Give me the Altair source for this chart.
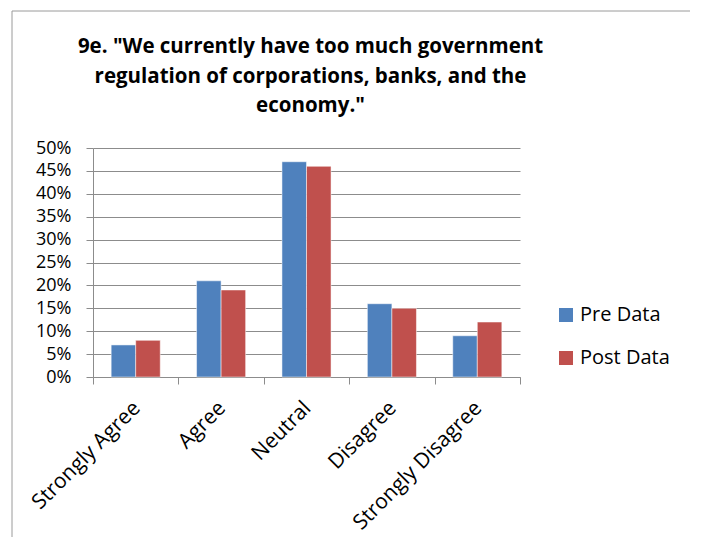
import altair as alt
import pandas as pd

categories = ["Strongly Agree", "Agree", "Neutral", "Disagree", "Strongly Disagree"]
pre_data = [0.07, 0.21, 0.47, 0.16, 0.09]
post_data = [0.08, 0.19, 0.46, 0.15, 0.12]
series = ["Pre Data", "Post Data"]
colors = ["#4F81BD", "#C0504D"]
y_ticks = [0, 0.05, 0.10, 0.15, 0.20, 0.25, 0.30, 0.35, 0.40, 0.45, 0.50]
title_lines = [
    '9e. "We currently have too much government',
    'regulation of corporations, banks, and the',
    'economy."',
]

rows = []
for c, a, b in zip(categories, pre_data, post_data):
    rows.append({"category": c, "series": series[0], "value": a})
    rows.append({"category": c, "series": series[1], "value": b})
df = pd.DataFrame(rows)

FONT = "Open Sans"
GRID = "#8c8c8c"

frame = alt.Chart(alt.Data(values=[{}])).mark_rect(
    fill=None, stroke="#9a9a9a", strokeWidth=1
).encode(
    x=alt.value(-81), x2=alt.value(601), y=alt.value(-137), y2=alt.value(440)
)

bars = alt.Chart(df).mark_bar(stroke="white", strokeWidth=0.5).encode(
    x=alt.X(
        "category:N",
        sort=categories,
        scale=alt.Scale(paddingInner=0, paddingOuter=0),
        axis=alt.Axis(
            title=None,
            labelAngle=-45,
            tickBand="extent",
            tickSize=7,
            tickColor=GRID,
            domainColor=GRID,
            labelFont=FONT,
            labelFontSize=21,
            labelColor="black",
            labelPadding=13,
            labelOffset=-7,
            grid=False,
        ),
    ),
    xOffset=alt.XOffset(
        "series:N", sort=series, scale=alt.Scale(paddingInner=0, paddingOuter=0.74)
    ),
    y=alt.Y(
        "value:Q",
        scale=alt.Scale(domain=[0, 0.5], nice=False),
        axis=alt.Axis(
            title=None,
            values=y_ticks,
            format=".0%",
            tickSize=7,
            tickColor=GRID,
            domainColor=GRID,
            gridColor=GRID,
            labelFont=FONT,
            labelFontSize=18,
            labelColor="black",
            labelPadding=15,
        ),
    ),
    color=alt.Color(
        "series:N",
        sort=series,
        scale=alt.Scale(domain=series, range=colors),
        legend=alt.Legend(
            title=None,
            orient="none",
            legendX=463,
            legendY=157,
            symbolType="square",
            symbolSize=196,
            symbolStrokeWidth=0,
            labelFont=FONT,
            labelFontSize=20,
            labelColor="black",
            labelOffset=4,
            rowPadding=23,
        ),
    ),
)

chart = alt.layer(frame, bars).properties(
    width=427,
    height=229,
    autosize="none",
    padding={"left": 85, "top": 140, "right": 170, "bottom": 160},
    title=alt.TitleParams(
        text=title_lines,
        font=FONT,
        fontSize=20.5,
        fontWeight="bold",
        color="black",
        anchor="middle",
        frame="group",
        lineHeight=29.5,
        offset=-106,
        dx=4,
    ),
).configure_view(stroke=None)

chart.save("out.html", embed_options={"renderer": "svg", "actions": False})
